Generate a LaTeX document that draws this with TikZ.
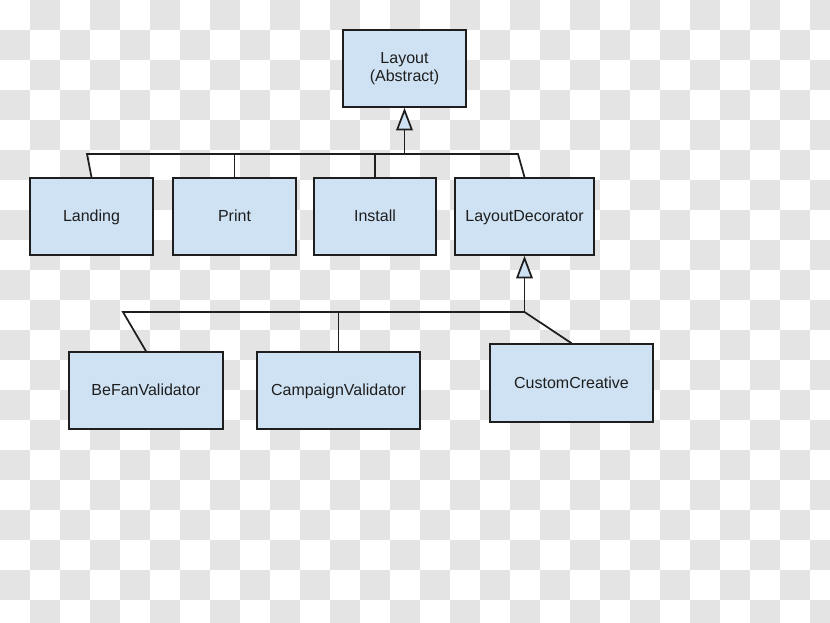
\documentclass[tikz,border=0pt]{standalone}
\usepackage{fontspec}
\setmainfont{Liberation Sans}
\usetikzlibrary{arrows.meta}
\definecolor{boxblue}{RGB}{207,226,243}
\definecolor{tilegray}{RGB}{228,228,228}
\definecolor{inkdark}{RGB}{30,30,30}
\tikzset{
  classbox/.style={draw=inkdark, fill=boxblue, line width=1.2pt, inner sep=0pt, text=inkdark,
    font=\fontsize{12}{13.5}\selectfont, align=center, minimum height=57.75pt},
  oneline/.style={classbox, text height=10pt, text depth=2pt},
  link/.style={draw=inkdark, line width=1.3pt},
  inherit/.style={link, -{Triangle[open, fill=boxblue, length=17pt, width=12.5pt]}}
}
\begin{document}
\begin{tikzpicture}[x=0.75pt,y=0.75pt,yscale=-1,xscale=1]
\useasboundingbox (0,0) rectangle (830,622);

%Background: checkerboard
\begin{scope}
\clip (0,0) rectangle (830,622);
\foreach \i in {0,...,27}
  \foreach \j in {0,...,20}{
    \pgfmathtruncatemacro{\odd}{mod(\i+\j,2)}
    \ifnum\odd=1 \fill[tilegray] (30*\i,30*\j) rectangle ++(30,30); \fi
  }
\end{scope}

%Shape: base class
\node[classbox, minimum width=92.25pt] (layout) at (404.5,68.5) {Layout\\(Abstract)};

%Shape: subclasses
\node[oneline, minimum width=92.25pt] (landing) at (91.5,216.5) {Landing};
\node[oneline, minimum width=92.25pt] (print) at (234.5,216.5) {Print};
\node[oneline, minimum width=91.5pt] (install) at (375,216.5) {Install};
\node[oneline, minimum width=104.25pt] (decor) at (524.5,216.5) {LayoutDecorator};

%Shape: decorators
\node[oneline, minimum width=115.5pt] (befan) at (146,390.5) {BeFanValidator};
\node[oneline, minimum width=122.25pt] (campaign) at (338.5,390.5) {CampaignValidator};
\node[oneline, minimum width=122.25pt, minimum height=58.5pt] (custom) at (571.5,383) {CustomCreative};

%Straight Lines: upper tree
\coordinate (busA) at (87,154);
\coordinate (busB) at (518,154);
\coordinate (headA) at (layout.south |- busA);
\draw[link] (landing.north) -- (busA) -- (busB) -- (decor.north);
\draw[link] (print.north) -- (print.north |- busA);
\draw[link] (install.north) -- (install.north |- busA);
\draw[inherit] (headA) -- (layout.south);

%Straight Lines: lower tree
\coordinate (busC) at (123,312);
\coordinate (busD) at (decor.south |- busC);
\draw[link] (befan.north) -- (busC) -- (busD) -- (custom.north);
\draw[link] (campaign.north) -- (campaign.north |- busC);
\draw[inherit] (busD) -- (decor.south);

\end{tikzpicture}
\end{document}
